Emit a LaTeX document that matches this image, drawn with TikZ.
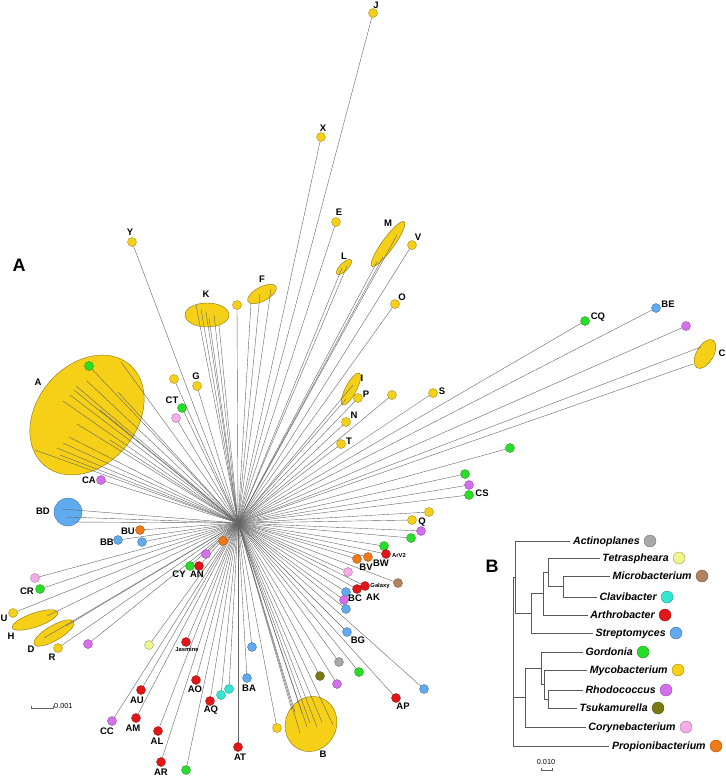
\documentclass[tikz,border=0pt]{standalone}
\usepackage{fontspec}
\setmainfont{Liberation Sans}
\usetikzlibrary{shapes.geometric,backgrounds,calc,positioning}

\definecolor{gord}{RGB}{40,222,40}
\definecolor{myco}{RGB}{246,208,22}
\definecolor{rhodo}{RGB}{212,112,236}
\definecolor{tsuka}{RGB}{122,122,18}
\definecolor{cory}{RGB}{246,172,232}
\definecolor{propi}{RGB}{240,122,22}
\definecolor{actino}{RGB}{168,168,168}
\definecolor{tetra}{RGB}{240,244,140}
\definecolor{micro}{RGB}{176,132,96}
\definecolor{clavi}{RGB}{52,230,212}
\definecolor{arthro}{RGB}{226,22,22}
\definecolor{strepto}{RGB}{96,170,240}
\definecolor{rayc}{RGB}{100,100,100}

\tikzset{
  leaf/.style={circle,fill=#1,draw=#1!60!black,line width=.3pt,inner sep=0pt,minimum size=9pt},
  tleaf/.style={leaf=#1,minimum size=12pt},
  blob/.style={ellipse,fill=myco,draw=myco!55!black,line width=.4pt,inner sep=0pt},
  spoke/.style={draw=rayc,line width=.4pt},
  branch/.style={draw=black!65,line width=.6pt},
  lbl/.style={font=\fontsize{9.5}{10}\selectfont\bfseries,inner sep=0pt,text height=1.5ex,text depth=.25ex},
  tinylbl/.style={font=\fontsize{5.8}{6}\selectfont\bfseries,inner sep=0pt},
  tlab/.style={font=\fontsize{10.6}{12}\selectfont\bfseries\itshape,inner sep=2.5pt,text height=1.5ex,text depth=.25ex},
  panel/.style={font=\fontsize{18}{20}\selectfont\bfseries,inner sep=0pt},
  scl/.style={font=\fontsize{7.3}{8}\selectfont,inner sep=0pt}
}

\begin{document}
\begin{tikzpicture}[x=1pt,y=-1pt]
\useasboundingbox (0,0) rectangle (726,777);
\coordinate (ctr) at (238,523);

% clusters and the spokes that end inside them
\begin{scope}[on background layer]
  \node[blob,minimum width=132pt,minimum height=100pt,rotate=50] (A) at (87,415) {};
  \node[blob,minimum width=56pt,minimum height=51pt,rotate=65] (B) at (311,724) {};
  \node[blob,minimum width=44pt,minimum height=24pt] (K) at (207,315) {};
  \node[blob,minimum width=32pt,minimum height=14pt,rotate=28] (F) at (262,294) {};
  \node[blob,minimum width=20pt,minimum height=8pt,rotate=45] (L) at (344,267) {};
  \node[blob,minimum width=55pt,minimum height=12pt,rotate=54] (M) at (388,244) {};
  \node[blob,minimum width=36pt,minimum height=11pt,rotate=62] (I) at (351,389) {};
  \node[blob,minimum width=32pt,minimum height=17pt,rotate=60] (C) at (705,354) {};
  \node[blob,minimum width=48pt,minimum height=14pt,rotate=19] (H) at (35,620) {};
  \node[blob,minimum width=46pt,minimum height=15pt,rotate=30] (D) at (54,633) {};
  \node[leaf=strepto,minimum size=28pt] (BD) at (68,512) {};
  \foreach \dx/\dy in {34/-53,0/-34,-11/-29,-13/-25,-17/-20,-24/-14,31/-23,13/-5,-10/9,-18/22,-24/28,-30/33,-52/35,-27/40,23/25}
    \draw[spoke] (ctr) -- ($(A)+(\dx,\dy)$);
  \foreach \dx/\dy in {-16/-12,-9/-11,-4/3,-1/-1,6/3,11/-2,22/1,-11/9,-19/-14}
    \draw[spoke] (ctr) -- ($(B)+(\dx,\dy)$);
  \foreach \dx/\dy in {-11/-10,-6/-6,-1/-3,2/3,7/0,12/10}
    \draw[spoke] (ctr) -- ($(K)+(\dx,\dy)$);
  \foreach \dx/\dy in {-2/0,-11/9,9/-5}
    \draw[spoke] (ctr) -- ($(F)+(\dx,\dy)$);
  \foreach \dx/\dy in {-2/1,3/-1}
    \draw[spoke] (ctr) -- ($(L)+(\dx,\dy)$);
  \foreach \dx/\dy in {-11/18,-5/13,9/-9}
    \draw[spoke] (ctr) -- ($(M)+(\dx,\dy)$);
  \foreach \dx/\dy in {-5/10,2/-4}
    \draw[spoke] (ctr) -- ($(I)+(\dx,\dy)$);
  \foreach \dx/\dy in {-4/-7,-12/10}
    \draw[spoke] (ctr) -- ($(C)+(\dx,\dy)$);
  \draw[spoke] (ctr) -- ($(H)+(12,-4)$);
  \foreach \dx/\dy in {-10/5,12/-7}
    \draw[spoke] (ctr) -- ($(D)+(\dx,\dy)$);
  \foreach \dx/\dy in {-6/-3,-2/5,4/10}
    \draw[spoke] (ctr) -- ($(BD)+(\dx,\dy)$);
\end{scope}

% single isolates
\foreach \n/\x/\y/\c in {J/373/13/myco,X/321/137/myco,Y/132/242/myco,E/336/222/myco,V/412/245/myco,
  y1/237/305/myco,O/395/304/myco,y2/174/379/myco,G/197/386/myco,CT/182/408/gord,c1/176/418/cory,
  P/358/398/myco,y3/392/395/myco,S/433/393/myco,N/346/422/myco,T/341/444/myco,CQ/585/321/gord,
  BE/656/308/strepto,r1/686/326/rhodo,g1/510/448/gord,g2/465/474/gord,r2/469/485/rhodo,CS/469/495/gord,
  y4/429/512/myco,Q/412/520/myco,r3/421/531/rhodo,g3/411/538/gord,g4/384/546/gord,ArV2/386/554/arthro,
  BV/357/559/propi,BW/368/557/propi,c2/348/572/cory,m1/398/583/micro,AK/357/589/arthro,
  Galaxy/365/586/arthro,BC/346/592/strepto,r4/344/600/rhodo,s2/346/609/strepto,BG/347/632/strepto,
  s3/252/647/strepto,BA/247/678/strepto,a1/339/662/actino,t1/320/676/tsuka,r5/337/684/rhodo,
  g5/359/672/gord,s4/424/689/strepto,AP/396/698/arthro,y5/277/728/myco,AT/238/747/arthro,
  g6/186/770/gord,AR/161/762/arthro,AL/158/731/arthro,AM/136/718/arthro,CC/112/721/rhodo,
  AU/141/690/arthro,AO/196/680/arthro,AQ/210/701/arthro,cl1/221/695/clavi,cl2/229/689/clavi,
  Jasmine/186/642/arthro,te1/149/645/tetra,r6/88/644/rhodo,R/58/648/myco,U/13/613/myco,
  CR/40/589/gord,c3/35/578/cory,BB/118/540/strepto,s5/142/542/strepto,BU/140/530/propi,
  p1/223/541/propi,r7/206/554/rhodo,CY/190/566/gord,AN/199/566/arthro,CA/101/480/rhodo,gA/89/366/gord}
{
  \node[leaf=\c] (\n) at (\x,\y) {};
  \begin{scope}[on background layer]
    \draw[spoke] (ctr) -- (\n.center);
  \end{scope}
}

% cluster names
\foreach \n/\x/\y in {J/376/5,X/323/128,Y/130/232,E/339/212,M/388/223,V/418/237,L/344/256,F/262/279,
  K/206/294,O/402/297,G/196/376,CT/172/400,I/362/378,P/366/394,N/354/415,T/349/441,S/442/391,
  A/38/382,CA/89/480,BD/43/511,BU/128/531,BB/107/542,CR/27/591,U/4/618,H/11/636,D/31/649,R/52/657,
  CY/179/574,AN/197/574,AU/137/700,AO/195/689,AQ/211/709,BA/249/688,CC/107/731,AM/133/728,
  AL/157/741,AR/161/772,AT/240/757,B/323/754,BG/358/640,AP/403/706,BC/355/598,AK/373/597,
  BV/366/567,BW/381/563,Q/422/521,CS/482/493,CQ/598/316,BE/668/304,C/722/353}
  \node[lbl] (l\n) at (\x,\y) {\n};
\node[tinylbl] (lJasmine) at (187,649) {Jasmine};
\node[tinylbl] (lGalaxy) at (380,586) {Galaxy};
\node[tinylbl] (lArV2) at (399,555) {ArV2};

\node[panel] (pA) at (19,265) {A};
\node[panel] (pB) at (492,566) {B};

\coordinate (sa1) at (31,708);
\coordinate (sa2) at (53,708);
\draw[spoke,line width=.5pt] ($(sa1)+(0,-2.5)$) -- (sa1) -- (sa2) -- ($(sa2)+(0,-2.5)$);
\node[scl,anchor=west] (sca) at (54,706) {0.001};

% panel B: genus tree
\foreach \n/\y/\x/\c in {Actinoplanes/541/650/actino,Tetraspheara/558/679/tetra,
  Microbacterium/576/702/micro,Clavibacter/597/667/clavi,Arthrobacter/615/665/arthro,
  Streptomyces/633/676/strepto,Gordonia/652/643/gord,Mycobacterium/670/678/myco,
  Rhodococcus/690/666/rhodo,Tsukamurella/708/658/tsuka,Corynebacterium/727/686/cory,
  Propionibacterium/746/716/propi}
{
  \node[tleaf=\c] (d\n) at (\x,\y) {};
  \node[tlab,left=1.5pt of d\n] (t\n) {\n};
}
\coordinate (nMC) at (563,586.5);
\coordinate (nTe) at (548,572);
\coordinate (nAr) at (543,593.5);
\coordinate (nSt) at (531,613);
\coordinate (nAc) at (515,577);
\coordinate (nRT) at (548,699);
\coordinate (nMy) at (544,684.5);
\coordinate (nGo) at (541,668);
\coordinate (nCo) at (525,697.5);
\coordinate (nRo) at (513,660);
\draw[branch] (nMC) |- (tMicrobacterium.west) (nMC) |- (tClavibacter.west);
\draw[branch] (nTe) |- (tTetraspheara.west) (nTe) |- (nMC);
\draw[branch] (nAr) |- (nTe) (nAr) |- (tArthrobacter.west);
\draw[branch] (nSt) |- (nAr) (nSt) |- (tStreptomyces.west);
\draw[branch] (nAc) |- (tActinoplanes.west) (nAc) |- (nSt);
\draw[branch] (nRT) |- (tRhodococcus.west) (nRT) |- (tTsukamurella.west);
\draw[branch] (nMy) |- (tMycobacterium.west) (nMy) |- (nRT);
\draw[branch] (nGo) |- (tGordonia.west) (nGo) |- (nMy);
\draw[branch] (nCo) |- (nGo) (nCo) |- (tCorynebacterium.west);
\draw[branch] (nRo) |- (nAc) (nRo) |- (nCo) (nRo) |- (tPropionibacterium.west);

\coordinate (sb1) at (541,770);
\coordinate (sb2) at (552,770);
\draw[branch,line width=.5pt] ($(sb1)+(0,-2.5)$) -- (sb1) -- (sb2) -- ($(sb2)+(0,-2.5)$);
\node[scl] (scb) at (546,762) {0.010};
\end{tikzpicture}
\end{document}
